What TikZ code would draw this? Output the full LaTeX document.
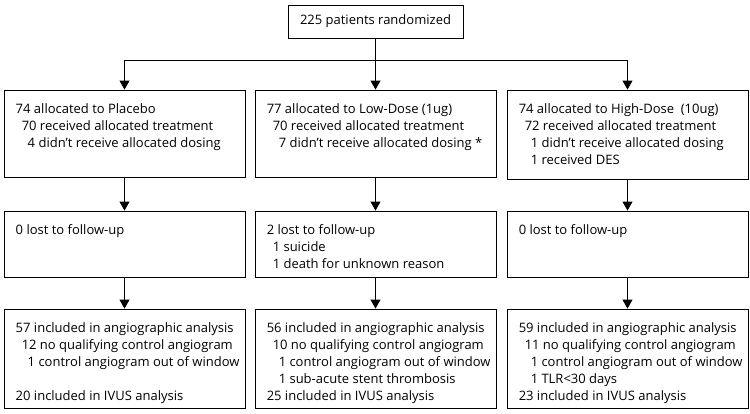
\documentclass[tikz,border=0pt]{standalone}
\usepackage{fontspec}
\setmainfont{Open Sans}
\usetikzlibrary{arrows.meta,positioning}

\tikzset{
  box/.style={draw, line width=0.9pt, minimum width=241pt, inner sep=0pt},
  txt/.style={anchor=north west, inner sep=0pt, align=left, font=\fontsize{13}{17}\selectfont},
  arr/.style={-{Triangle[width=10pt,length=9pt]}, line width=0.9pt},
}
\newcommand{\ia}{\hspace*{6pt}}
\newcommand{\ib}{\hspace*{12pt}}

\begin{document}
\begin{tikzpicture}[x=1pt,y=-1pt]
\useasboundingbox (0,0) rectangle (750,413);
% randomisation
\node[box, minimum width=175pt, minimum height=33pt, font=\fontsize{13}{17}\selectfont] (rand) at (375.5,21.5) {225 patients randomized};
\coordinate (split) at (375.5,60);
% allocation
\node[box, minimum height=87pt] (allocP) at (124.5,133.5) {};
\node[box, minimum height=87pt] (allocL) at (375.5,133.5) {};
\node[box, minimum height=89pt] (allocH) at (627.5,134.5) {};
% follow-up
\node[box, minimum height=66pt] (fupP) at (124.5,244) {};
\node[box, minimum height=66pt] (fupL) at (375.5,244) {};
\node[box, minimum height=66pt] (fupH) at (627.5,244) {};
% analysis
\node[box, minimum height=99pt] (anaP) at (124.5,358.5) {};
\node[box, minimum height=99pt] (anaL) at (375.5,358.5) {};
\node[box, minimum height=99pt] (anaH) at (627.5,358.5) {};

\node[txt] (tallocP) at ([shift={(12,14)}]allocP.north west) {74 allocated to Placebo\\ \ia70 received allocated treatment\\ \ib4 didn't receive allocated dosing};
\node[txt] (tallocL) at ([shift={(12,14)}]allocL.north west) {77 allocated to Low-Dose (1ug)\\ \ia70 received allocated treatment\\ \ib7 didn't receive allocated dosing *};
\node[txt] (tallocH) at ([shift={(12,14)}]allocH.north west) {74 allocated to High-Dose\ \ (10ug)\\ \ia72 received allocated treatment\\ \ib1 didn't receive allocated dosing\\ \ib1 received DES};

\node[txt] (tfupP) at ([shift={(12,14)}]fupP.north west) {0 lost to follow-up};
\node[txt] (tfupL) at ([shift={(12,14)}]fupL.north west) {2 lost to follow-up\\ \ia1 suicide\\ \ia1 death for unknown reason};
\node[txt] (tfupH) at ([shift={(12,14)}]fupH.north west) {0 lost to follow-up};

\node[txt] (tanaP) at ([shift={(12,14)}]anaP.north west) {57 included in angiographic analysis\\ \ia12 no qualifying control angiogram\\ \ib1 control angiogram out of window\\ ~\\ 20 included in IVUS analysis};
\node[txt] (tanaL) at ([shift={(12,14)}]anaL.north west) {56 included in angiographic analysis\\ \ia10 no qualifying control angiogram\\ \ib1 control angiogram out of window\\ \ib1 sub-acute stent thrombosis\\ 25 included in IVUS analysis};
\node[txt] (tanaH) at ([shift={(12,14)}]anaH.north west) {59 included in angiographic analysis\\ \ia11 no qualifying control angiogram\\ \ib1 control angiogram out of window\\ \ib1 TLR<30 days\\ 23 included in IVUS analysis};

% connectors
\draw[line width=0.9pt] (rand) -- (split);
\draw[line width=0.9pt] (allocP.north |- split) -- (allocH.north |- split);
\draw[arr] (split) -| (allocP);
\draw[arr] (split) -- (allocL);
\draw[arr] (split) -| (allocH);
\draw[arr] (allocP) -- (fupP);
\draw[arr] (allocL) -- (fupL);
\draw[arr] (allocH) -- (fupH);
\draw[arr] (fupP) -- (anaP);
\draw[arr] (fupL) -- (anaL);
\draw[arr] (fupH) -- (anaH);
\end{tikzpicture}
\end{document}
